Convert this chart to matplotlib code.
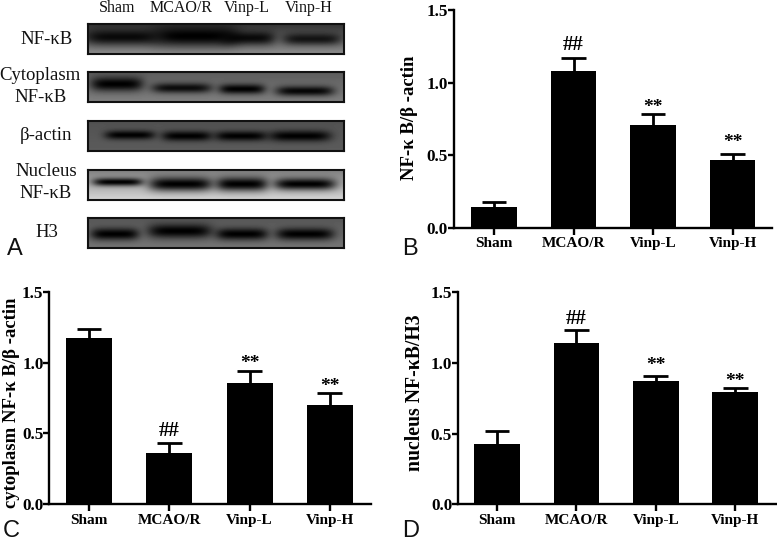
import numpy as np
import matplotlib
matplotlib.use("Agg")
import matplotlib.pyplot as plt

W, H = 777, 544
SERIF = "Liberation Serif"
SANS = "Liberation Sans"

groups = ["Sham", "MCAO/R", "Vinp-L", "Vinp-H"]

b_vals = [0.14, 1.08, 0.705, 0.465]
b_tops = [0.175, 1.17, 0.785, 0.505]
c_vals = [1.175, 0.365, 0.855, 0.70]
c_tops = [1.235, 0.43, 0.94, 0.785]
d_vals = [0.43, 1.14, 0.875, 0.795]
d_tops = [0.52, 1.235, 0.91, 0.825]

b_marks = ["", "##", "**", "**"]
c_marks = ["", "##", "**", "**"]
d_marks = ["", "##", "**", "**"]
b_mark_y = [0, 1.259, 0.859, 0.618]
c_mark_y = [0, 0.519, 1.025, 0.865]
d_mark_y = [0, 1.311, 1.014, 0.901]

yticks = [0.0, 0.5, 1.0, 1.5]

# Western blot strips: background top, background bottom, bands
# each band: lane centre x, lane width, band centre y offset, thickness, darkness
blot_rows = [
    (0.20, 0.56, [(122, 76, 13, 8, 0.9), (195, 84, 12, 10, 1.0), (248, 54, 14, 7, 0.9), (312, 58, 15, 6, 0.8)]),
    (0.36, 0.50, [(117, 52, 12, 7, 1.0), (182, 60, 16, 5, 0.9), (242, 46, 17, 5, 1.0), (305, 58, 19, 5, 0.95)]),
    (0.32, 0.36, [(130, 50, 14, 4.5, 1.0), (187, 50, 15, 5, 1.0), (241, 52, 15, 5, 1.0), (300, 62, 15, 5.5, 1.0)]),
    (0.50, 0.84, [(118, 50, 12, 4, 1.0), (181, 64, 14, 7, 1.0), (242, 52, 14, 7, 1.0), (305, 62, 14, 6, 1.0)]),
    (0.34, 0.46, [(115, 48, 16, 6, 1.0), (180, 64, 13, 7, 1.0), (242, 52, 16, 6, 1.0), (305, 58, 16, 6, 1.0)]),
]
blot_tops = [24, 72, 121, 170, 218]
blot_labels = [
    ("NF-κB", 47, 40),
    ("Cytoplasm", 40, 76),
    ("NF-κB", 41, 98),
    ("β-actin", 46, 136),
    ("Nucleus", 46, 172),
    ("NF-κB", 46, 193),
    ("H3", 47, 233),
]
lane_labels = [("Sham", 117.5), ("MCAO/R", 181), ("Vinp-L", 246.5), ("Vinp-H", 309)]

fig = plt.figure(figsize=(W / 100, H / 100), dpi=100, facecolor="white")


def px_axes(x0, y0, x1, y1):
    return fig.add_axes([x0 / W, 1 - y1 / H, (x1 - x0) / W, (y1 - y0) / H])


def fig_text(x, y, s, **kw):
    fig.text(x / W, 1 - y / H, s, **kw)


# ---- Panel A ----
BX0, BX1, BH = 88, 344, 30
for top, (bg_t, bg_b, bands) in zip(blot_tops, blot_rows):
    ax = px_axes(BX0, top, BX1, top + BH)
    xs = np.arange(BX0, BX1) + 0.5
    ys = np.arange(BH) + 0.5
    xx, yy = np.meshgrid(xs, ys)
    img = bg_t + (bg_b - bg_t) * yy / BH
    for cx, w, yc, th, dark in bands:
        lane = np.exp(-np.abs((xx - cx) / (w / 2)) ** 5)
        band = np.exp(-((yy - yc) / th) ** 2)
        img = img * (1 - dark * lane * band)
    ax.imshow(img, cmap="gray", vmin=0, vmax=1, aspect="auto",
              extent=(BX0, BX1, BH, 0), interpolation="bilinear")
    ax.set_xticks([])
    ax.set_yticks([])
    for s in ax.spines.values():
        s.set_linewidth(1.5)
        s.set_color("#111111")

for s, x, y in blot_labels:
    fig_text(x, y, s, family=SERIF, fontsize=13.5, ha="center", va="center", color="#111111")
for s, x in lane_labels:
    fig_text(x, 8, s, family=SERIF, fontsize=11.5, ha="center", va="center", color="#111111")


# ---- Bar panels ----
def bar_panel(x_axis, y_zero, y_top, x_end, first, spacing, vals, tops, marks, mark_y, ylabel, ylabel_x, ylabel_y, ylabel_size, letter, letter_xy):
    ax = px_axes(x_axis, y_top, x_end, y_zero)
    pos = np.arange(len(groups))
    ax.bar(pos, vals, width=0.575, color="black", zorder=2)
    ax.vlines(pos, vals, tops, color="black", linewidth=2.0, zorder=1)
    ax.hlines(tops, pos - 0.155, pos + 0.155, color="black", linewidth=2.0, zorder=1)
    ax.set_xlim((x_axis - first) / spacing, (x_end - first) / spacing)
    ax.set_ylim(0, 1.5)
    ax.set_xticks(pos)
    ax.set_xticklabels(groups, family=SERIF, fontweight="bold", fontsize=11)
    ax.set_yticks(yticks)
    ax.set_yticklabels([f"{t:.1f}" for t in yticks], family=SERIF, fontweight="bold", fontsize=12.3)
    ax.tick_params(axis="x", length=5, width=1.7, pad=2)
    ax.tick_params(axis="y", length=4, width=1.7, pad=0)
    for side in ("top", "right"):
        ax.spines[side].set_visible(False)
    for side in ("left", "bottom"):
        ax.spines[side].set_linewidth(1.7)
    ax.patch.set_alpha(0)
    for p, y, m in zip(pos, mark_y, marks):
        if m:
            off = 0 if m == "##" else -3.5
            size = 15 if m == "##" else 14
            ax.annotate(m, (p, y), xytext=(0, off), textcoords="offset points", ha="center", va="center",
                        family=SERIF, fontweight="bold", fontsize=size, clip_on=False)
    fig_text(ylabel_x, ylabel_y, ylabel, family=SERIF, fontweight="bold", fontsize=ylabel_size,
             rotation=90, ha="center", va="center")
    fig_text(letter_xy[0], letter_xy[1], letter, family=SANS, fontsize=17, ha="left", va="baseline", color="#111111")


bar_panel(453.5, 227.7, 10, 772, 494, 79.5, b_vals, b_tops, b_marks, b_mark_y, "NF-κ B/β -actin", 410, 118, 13.5, "B", (402, 255))
bar_panel(49, 504.3, 291.7, 371, 89, 80.3, c_vals, c_tops, c_marks, c_mark_y, "cytoplasm NF-κ B/β -actin", 12, 403, 13.5, "C", (3, 537))
bar_panel(457.7, 504.3, 292.3, 777, 497, 79.4, d_vals, d_tops, d_marks, d_mark_y, "nucleus NF-κB/H3", 415, 392.5, 14.2, "D", (402, 537))
fig_text(7, 255, "A", family=SANS, fontsize=17, ha="left", va="baseline", color="#111111")

fig.savefig("out.png", dpi=100, facecolor="white")
